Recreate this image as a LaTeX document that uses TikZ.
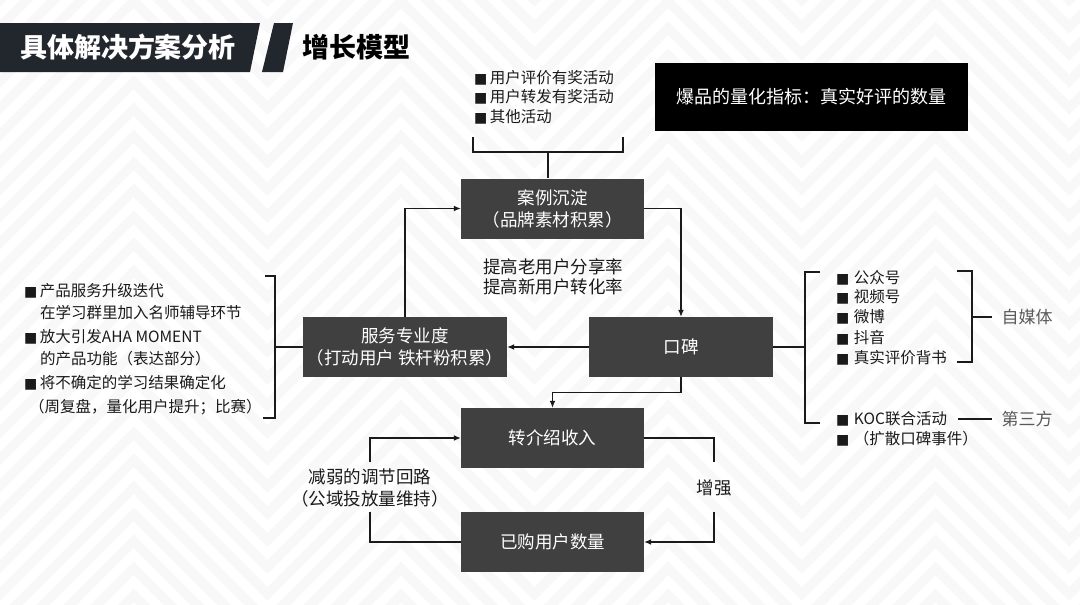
\documentclass[tikz,border=0pt]{standalone}
\usepackage{fontspec}
\setmainfont{Noto Sans CJK SC}
\newfontfamily\symfont{DejaVu Sans}
\usetikzlibrary{arrows.meta,calc}
\definecolor{boxgray}{HTML}{404040}
\definecolor{hdr}{HTML}{22262D}
\definecolor{chev}{HTML}{F8F8F8}
\definecolor{lbl}{HTML}{595959}
\definecolor{ink}{HTML}{1A1A1A}
\newcommand{\bul}{{\symfont\fontsize{14}{14}\selectfont ■}\hspace{2.5pt}}
\tikzset{
  stagebox/.style={fill=boxgray,text=white!95,minimum width=183pt,minimum height=60pt,inner sep=0pt,align=center,font=\fontsize{17.5}{22}\selectfont},
  listline/.style={anchor=west,inner sep=0pt,text=ink,font=\fontsize{15.5}{18}\selectfont},
  midtxt/.style={inner sep=0pt,text=ink,align=center,font=\fontsize{17.5}{21}\selectfont},
  graytxt/.style={inner sep=0pt,text=lbl,font=\fontsize{17}{20}\selectfont},
  conn/.style={draw=ink,line width=1.3pt},
  arr/.style={conn,-{Latex[length=7pt,width=6pt]}},
  bgzig/.style={draw=chev,line width=9.5pt}
}
\begin{document}
\begin{tikzpicture}[x=1pt,y=-1pt]
\useasboundingbox (0,0) rectangle (1080,605);
% background chevrons
\begin{scope}
\clip (0,0) rectangle (1080,605);
\fill[white] (0,0) rectangle (1080,605);
\foreach \b in {0,27,...,780}{
  \draw[bgzig] (-133.65,{\b-133.65}) -- (0,\b) -- (133.65,{\b-133.65}) -- (267.3,\b) -- (400.95,{\b-133.65}) -- (534.6,\b) -- (668.25,{\b-133.65}) -- (801.9,\b) -- (935.55,{\b-133.65}) -- (1069.2,\b) -- (1202.85,{\b-133.65});
}
\end{scope}
% header
\fill[hdr] (0,23) -- (260,23) -- (250,72) -- (0,72) -- cycle;
\fill[hdr] (274,23) -- (293,23) -- (283,72) -- (262,72) -- cycle;
\node[text=white,font=\bfseries\fontsize{27}{30}\selectfont,inner sep=0pt] (title) at (128,47) {具体解决方案分析};
\node[text=black,font=\bfseries\fontsize{27}{30}\selectfont,inner sep=0pt] (subtitle) at (356,47) {增长模型};
% black metric box
\node[fill=black,text=white!95,minimum width=313pt,minimum height=68pt,inner sep=0pt,font=\fontsize{18}{21}\selectfont] (metric) at (811.5,97) {爆品的量化指标：真实好评的数量};
% main boxes
\node[stagebox] (anli) at (552.5,208.5) {案例沉淀\\（品牌素材积累）};
\node[stagebox,minimum width=204pt] (fuwu) at (405,347) {服务专业度\\（打动用户 铁杆粉积累）};
\node[stagebox,minimum width=184pt] (koubei) at (681,347) {口碑};
\node[stagebox] (zhuan) at (552.5,438) {转介绍收入};
\node[stagebox] (yigou) at (552.5,542) {已购用户数量};
% middle text
\node[midtxt] (mid1) at (553,267) {提高老用户分享率};
\node[midtxt] (mid2) at (553,287) {提高新用户转化率};
% main arrows
\draw[arr] (anli.east) -| (koubei.north);
\draw[arr] (koubei.west) -- (fuwu.east);
\draw[arr] (fuwu.north) |- (anli.west);
\draw[arr] (koubei.south) -- ++(0,15) -| (zhuan.north);
% bottom loops
\coordinate (L1) at (370,512);
\coordinate (L2) at (370,462);
\coordinate (R1) at (714,462);
\coordinate (R2) at (714,512);
\draw[conn] (yigou.west) -| (L1);
\draw[arr] (L2) |- (zhuan.west);
\draw[conn] (zhuan.east) -| (R1);
\draw[arr] (R2) |- (yigou.east);
\node[midtxt] (weak1) at (370,477) {减弱的调节回路};
\node[midtxt] (weak2) at (370,499) {（公域投放量维持）};
\node[midtxt] (strong) at (714,488) {增强};
% top list
\node[listline] (t1) at (474,78) {\bul 用户评价有奖活动};
\node[listline] (t2) at (474,97) {\bul 用户转发有奖活动};
\node[listline] (t3) at (474,117) {\bul 其他活动};
\coordinate (tb) at (548,152);
\draw[conn] (473,137) -- (473,152) -- (623,152) -- (623,137);
\draw[conn] (tb) -- (tb |- anli.north);
% left list
\node[listline] (l1) at (24,291) {\bul 产品服务升级迭代};
\node[listline] (l2) at (40,313) {在学习群里加入名师辅导环节};
\node[listline] (l3) at (24,337) {\bul 放大引发AHA MOMENT};
\node[listline] (l4) at (40,359) {的产品功能（表达部分）};
\node[listline] (l5) at (24,383) {\bul 将不确定的学习结果确定化};
\node[listline] (l6) at (29,407) {（周复盘，量化用户提升；比赛）};
\coordinate (lb) at (275,347);
\draw[conn] (265,276) -- (275,276) -- (275,418) -- (263,418);
\draw[conn] (lb) -- (fuwu.west);
% right list
\coordinate (rb) at (805,347);
\draw[conn] (koubei.east) -- (rb);
\draw[conn] (820,272) -- (805,272) -- (805,423) -- (820,423);
\node[listline] (r1) at (836,278) {\bul\hspace{2pt}公众号};
\node[listline] (r2) at (836,297) {\bul\hspace{2pt}视频号};
\node[listline] (r3) at (836,317) {\bul\hspace{2pt}微博};
\node[listline] (r4) at (836,338) {\bul\hspace{2pt}抖音};
\node[listline] (r5) at (836,358) {\bul\hspace{2pt}真实评价背书};
\node[listline] (r6) at (836,419) {\bul\hspace{2pt}KOC联合活动};
\node[listline] (r7) at (836,439) {\bul\hspace{2pt}（扩散口碑事件）};
\draw[conn] (957,271) -- (972,271) -- (972,362) -- (957,362);
\node[graytxt] (zimeiti) at (1027,317) {自媒体};
\node[graytxt] (disanfang) at (1027,419) {第三方};
\coordinate (zm) at (992,317);
\coordinate (k1) at (958,419);
\coordinate (k2) at (992,419);
\draw[conn] (972,317) -- (zm);
\draw[conn] (k1) -- (k2);
\end{tikzpicture}
\end{document}
